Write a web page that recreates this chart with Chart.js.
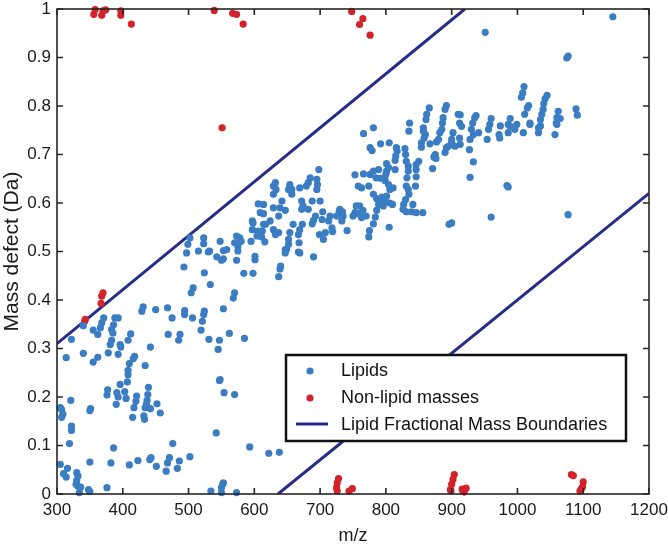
<!DOCTYPE html>
<html lang="en">
<head>
<meta charset="UTF-8">
<title>Mass defect vs m/z</title>
<script src="https://cdn.jsdelivr.net/npm/chart.js"></script>
<style>
  html, body { margin: 0; padding: 0; background: #fff; }
</style>
</head>
<body>
<canvas id="massDefectChart" width="668" height="549"></canvas>
<script>
// Lipids (m/z, mass defect)
const lipidMz = [
  1145, 951, 1075, 1077, 1077, 960, 984, 986, 928, 933, 927, 913,
  1010, 1008, 1006, 1017, 1015, 1011, 1019, 1045, 1042, 1040, 1039, 1037, 1035, 1035, 1062, 1060, 1065, 1059, 1089, 1091,
  937, 935, 932, 913, 960, 958, 989, 986, 974, 999,
  930, 933, 928, 941, 954, 956, 972, 973, 986, 989, 996, 1009, 1019, 1032, 1032, 1057, 1060,
  866, 862, 861, 890, 892, 887, 886, 910, 912, 836, 857, 781,
  766, 835, 857, 860, 858, 885, 882, 880, 877, 902, 900, 900, 905, 912, 915, 892,
  776, 779, 792, 805, 816, 817, 815, 814, 829, 830, 854, 854, 867, 875, 873, 876, 871, 890, 895,
  801, 804, 801, 814, 789, 781, 776, 766, 753, 785, 792, 763, 758, 774, 800, 799, 804, 806, 811,
  831, 834, 834, 832, 831, 834, 835, 830, 827, 826, 841, 845, 846, 846, 850, 846,
  781, 786, 791, 794, 799, 801, 806, 810, 796, 789, 831, 839, 846, 856,
  786, 784, 781, 775, 774, 805, 900, 896,
  760, 755, 753, 750, 758, 763, 765, 770,
  730, 729, 725, 734, 735, 733, 741, 715, 713, 718, 719, 708, 705, 699, 703, 704, 693, 690, 688,
  682, 674, 672, 673, 669, 667, 668, 669, 659, 654, 652, 652, 647, 647, 637, 629, 632, 647, 639, 637, 629,
  633, 629, 632, 629, 642, 657, 657, 654, 652, 669, 679, 682, 685, 695, 696, 695, 698, 700,
  614, 609, 617, 624, 612, 688, 672, 611, 616,
  649, 667, 690, 640, 639, 637,
  606, 614, 598, 597, 597, 606, 609, 604, 595, 614,
  502, 499, 523, 523, 548, 573, 578, 570, 580, 575, 515, 532, 553, 558, 497,
  530, 543, 553, 575, 550, 573, 601, 601, 493, 524, 533, 584, 598, 507, 504, 570, 568,
  431, 429, 450, 468, 494, 494, 475, 506, 524, 523, 521, 553,
  388, 393, 371, 368, 366, 386, 383, 385, 355, 362, 340, 322, 412, 408, 383, 381, 396, 397, 393, 378,
  340, 314, 355, 362, 418, 416, 410, 408, 434, 442, 469, 487, 485, 519, 531, 547, 545, 562, 585, 548,
  305, 307, 309, 307, 321, 322, 322, 319, 305, 316, 310, 314, 330, 332, 330, 329, 332, 336, 334, 348, 350,
  350, 351, 350, 376, 377, 376, 391, 393, 390, 396, 403, 405, 407, 408,
  421, 420, 417, 415, 439, 438, 437, 436, 434, 442, 432, 433, 452, 457,
  386, 382, 410, 423, 441, 443, 451, 466, 468, 471, 476, 483, 486, 502,
  547, 554, 570, 542, 593, 534, 550, 552, 553, 550, 573, 622, 638
];
const lipidDefect = [
  0.984, 0.952, 0.899, 0.903, 0.576, 0.571, 0.636, 0.633, 0.653, 0.685, 0.710, 0.721,
  0.840, 0.827, 0.818, 0.801, 0.796, 0.783, 0.765, 0.822, 0.815, 0.805, 0.793, 0.783, 0.772, 0.759, 0.789, 0.776, 0.774, 0.765, 0.794, 0.781,
  0.780, 0.776, 0.765, 0.782, 0.774, 0.762, 0.774, 0.762, 0.759, 0.762,
  0.752, 0.741, 0.731, 0.745, 0.731, 0.752, 0.741, 0.734, 0.745, 0.758, 0.752, 0.745, 0.762, 0.755, 0.745, 0.741, 0.762,
  0.796, 0.783, 0.772, 0.793, 0.801, 0.776, 0.765, 0.783, 0.765, 0.765, 0.755, 0.755,
  0.743, 0.748, 0.748, 0.741, 0.734, 0.752, 0.745, 0.731, 0.726, 0.745, 0.731, 0.724, 0.717, 0.734, 0.758, 0.714,
  0.714, 0.708, 0.722, 0.724, 0.714, 0.707, 0.697, 0.688, 0.712, 0.700, 0.724, 0.715, 0.722, 0.700, 0.695, 0.692, 0.671, 0.704, 0.717,
  0.681, 0.673, 0.666, 0.669, 0.669, 0.666, 0.659, 0.660, 0.658, 0.652, 0.651, 0.631, 0.635, 0.635, 0.659, 0.646, 0.638, 0.628, 0.631,
  0.686, 0.676, 0.666, 0.652, 0.635, 0.628, 0.618, 0.607, 0.597, 0.587, 0.597, 0.635, 0.654, 0.669, 0.686, 0.679,
  0.618, 0.609, 0.604, 0.612, 0.603, 0.614, 0.600, 0.597, 0.594, 0.597, 0.582, 0.582, 0.580, 0.580,
  0.585, 0.571, 0.557, 0.543, 0.530, 0.550, 0.559, 0.556,
  0.594, 0.594, 0.580, 0.573, 0.578, 0.570, 0.585, 0.573,
  0.587, 0.582, 0.573, 0.582, 0.573, 0.563, 0.543, 0.573, 0.563, 0.549, 0.541, 0.539, 0.525, 0.535, 0.566, 0.582, 0.573, 0.564, 0.557,
  0.587, 0.594, 0.587, 0.556, 0.545, 0.535, 0.518, 0.497, 0.556, 0.539, 0.525, 0.515, 0.504, 0.497, 0.539, 0.545, 0.535, 0.585, 0.590, 0.573, 0.590,
  0.628, 0.618, 0.642, 0.635, 0.604, 0.628, 0.618, 0.638, 0.628, 0.631, 0.635, 0.642, 0.652, 0.649, 0.638, 0.628, 0.669, 0.604,
  0.597, 0.580, 0.556, 0.563, 0.542, 0.604, 0.604, 0.530, 0.520,
  0.504, 0.499, 0.489, 0.470, 0.464, 0.448,
  0.598, 0.578, 0.559, 0.563, 0.545, 0.542, 0.535, 0.532, 0.521, 0.556,
  0.528, 0.515, 0.528, 0.516, 0.521, 0.532, 0.528, 0.518, 0.521, 0.511, 0.501, 0.501, 0.502, 0.504, 0.497,
  0.499, 0.489, 0.485, 0.501, 0.482, 0.482, 0.490, 0.483, 0.468, 0.456, 0.432, 0.455, 0.455, 0.425, 0.415, 0.415, 0.404,
  0.386, 0.377, 0.380, 0.384, 0.378, 0.370, 0.363, 0.363, 0.377, 0.370, 0.356, 0.382,
  0.363, 0.363, 0.363, 0.353, 0.343, 0.349, 0.339, 0.332, 0.338, 0.329, 0.347, 0.319, 0.330, 0.317, 0.317, 0.308, 0.308, 0.303, 0.288, 0.291,
  0.290, 0.281, 0.272, 0.282, 0.284, 0.279, 0.269, 0.255, 0.265, 0.303, 0.329, 0.329, 0.317, 0.338, 0.319, 0.317, 0.298, 0.331, 0.321, 0.236,
  0.178, 0.174, 0.165, 0.158, 0.193, 0.140, 0.131, 0.104, 0.061, 0.053, 0.042, 0.035, 0.044, 0.037, 0.028, 0.020, 0.016, 0.014, 0.003, 0.009, 0.005,
  0.066, 0.176, 0.172, 0.013, 0.215, 0.204, 0.209, 0.200, 0.185, 0.226, 0.211, 0.197, 0.231, 0.246,
  0.202, 0.191, 0.178, 0.158, 0.220, 0.205, 0.193, 0.185, 0.178, 0.176, 0.161, 0.154, 0.186, 0.167,
  0.095, 0.064, 0.060, 0.069, 0.071, 0.075, 0.057, 0.047, 0.064, 0.075, 0.104, 0.053, 0.068, 0.077,
  0.234, 0.209, 0.205, 0.126, 0.097, 0.006, 0.003, 0.020, 0.023, 0.013, 0.003, 0.084, 0.086
];

// Non-lipid masses
const nonLipidMz = [
  356, 358, 368, 370, 374, 397, 397, 413, 539, 567, 573, 583, 551,
  748, 760, 765, 776, 370, 368, 367, 343, 342,
  728, 726, 725, 726, 744, 749, 904, 902, 900, 898, 899, 917, 916, 919, 922,
  1082, 1085, 1100, 1099, 1097, 1095
];
const nonLipidDefect = [
  0.989, 0.999, 0.987, 0.996, 0.998, 0.996, 0.987, 0.969, 0.997, 0.991, 0.989, 0.969, 0.755,
  0.995, 0.968, 0.980, 0.946, 0.415, 0.408, 0.393, 0.360, 0.356,
  0.032, 0.023, 0.013, 0.006, 0.006, 0.011, 0.040, 0.030, 0.020, 0.009, 0.006, 0.006, 0.010, 0.004, 0.012,
  0.040, 0.038, 0.025, 0.015, 0.010, 0.006
];

// Fractional mass boundaries (end points)
const upperBoundMz = [300, 920];
const upperBoundDefect = [0.31, 1.0];
const lowerBoundMz = [636, 1200];
const lowerBoundDefect = [0, 0.62];

const xTicks = [300, 400, 500, 600, 700, 800, 900, 1000, 1100, 1200];
const yTicks = [0, 0.1, 0.2, 0.3, 0.4, 0.5, 0.6, 0.7, 0.8, 0.9, 1];

const lipidBlue = '#3a7dc2';
const nonLipidRed = '#d3222a';
const boundNavy = '#272c88';
const fontFamily = '"Liberation Sans", Arial, sans-serif';

function toPoints(xs, ys) {
  return xs.map((x, i) => ({ x: x, y: ys[i] }));
}

// box with inward ticks on all four sides, like the original figure
const frameTicks = {
  id: 'frameTicks',
  afterDraw(chart) {
    const { ctx, chartArea: a, scales } = chart;
    const len = 6;
    ctx.save();
    ctx.strokeStyle = '#262626';
    ctx.lineWidth = 1.6;
    ctx.strokeRect(a.left, a.top, a.right - a.left, a.bottom - a.top);
    ctx.beginPath();
    xTicks.forEach(v => {
      const px = scales.x.getPixelForValue(v);
      ctx.moveTo(px, a.bottom); ctx.lineTo(px, a.bottom - len);
      ctx.moveTo(px, a.top); ctx.lineTo(px, a.top + len);
    });
    yTicks.forEach(v => {
      const py = scales.y.getPixelForValue(v);
      ctx.moveTo(a.left, py); ctx.lineTo(a.left + len, py);
      ctx.moveTo(a.right, py); ctx.lineTo(a.right - len, py);
    });
    ctx.stroke();
    ctx.restore();
  }
};

// legend drawn inside the plot, lower right
const insideLegend = {
  id: 'insideLegend',
  afterDraw(chart) {
    const { ctx, chartArea: a } = chart;
    const right = a.right - 23, bottom = a.bottom - 53;
    const w = 340, h = 86;
    const left = right - w, top = bottom - h;
    ctx.save();
    ctx.fillStyle = '#fff';
    ctx.fillRect(left, top, w, h);
    ctx.strokeStyle = '#111';
    ctx.lineWidth = 2.5;
    ctx.strokeRect(left, top, w, h);
    const items = chart.data.datasets.filter(d => d.legendLabel);
    ctx.font = '18px ' + fontFamily;
    ctx.textBaseline = 'middle';
    items.forEach((d, i) => {
      const cy = top + 15 + i * 27;
      if (d.showLine) {
        ctx.strokeStyle = d.borderColor;
        ctx.lineWidth = 3;
        ctx.beginPath();
        ctx.moveTo(left + 10, cy); ctx.lineTo(left + 42, cy);
        ctx.stroke();
      } else {
        ctx.fillStyle = d.backgroundColor;
        ctx.beginPath();
        ctx.arc(left + 24, cy + 1, 3.6, 0, Math.PI * 2);
        ctx.fill();
      }
      ctx.fillStyle = '#111';
      ctx.fillText(d.legendLabel, left + 55, cy + 1);
    });
    ctx.restore();
  }
};

new Chart(document.getElementById('massDefectChart'), {
  type: 'scatter',
  data: {
    datasets: [
      {
        legendLabel: 'Lipids',
        data: toPoints(lipidMz, lipidDefect),
        backgroundColor: lipidBlue,
        borderWidth: 0,
        pointRadius: 3.6,
        clip: false
      },
      {
        legendLabel: 'Non-lipid masses',
        data: toPoints(nonLipidMz, nonLipidDefect),
        backgroundColor: nonLipidRed,
        borderWidth: 0,
        pointRadius: 3.6,
        clip: false
      },
      {
        legendLabel: 'Lipid Fractional Mass Boundaries',
        data: toPoints(upperBoundMz, upperBoundDefect),
        showLine: true,
        borderColor: boundNavy,
        borderWidth: 3,
        pointRadius: 0
      },
      {
        data: toPoints(lowerBoundMz, lowerBoundDefect),
        showLine: true,
        borderColor: boundNavy,
        borderWidth: 3,
        pointRadius: 0
      }
    ]
  },
  options: {
    responsive: false,
    animation: false,
    devicePixelRatio: 1,
    layout: { padding: { top: 9, right: 19, left: 0, bottom: 0 } },
    plugins: {
      legend: { display: false },
      tooltip: { enabled: false }
    },
    scales: {
      x: {
        type: 'linear',
        min: 300,
        max: 1200,
        afterBuildTicks: s => { s.ticks = xTicks.map(v => ({ value: v })); },
        afterFit: s => { s.height = 55; s.paddingLeft = 0; s.paddingRight = 0; },
        grid: { display: false, drawTicks: false },
        border: { display: false },
        ticks: {
          padding: 6,
          color: '#1a1a1a',
          font: { family: fontFamily, size: 17 },
          maxRotation: 0,
          autoSkip: false,
          callback: v => String(v)
        },
        title: {
          display: true,
          text: 'm/z',
          color: '#1a1a1a',
          font: { family: fontFamily, size: 18 },
          padding: { top: 0, bottom: 2 }
        }
      },
      y: {
        type: 'linear',
        min: 0,
        max: 1,
        afterBuildTicks: s => { s.ticks = yTicks.map(v => ({ value: v })); },
        afterFit: s => { s.width = 57; s.paddingTop = 0; s.paddingBottom = 0; },
        grid: { display: false, drawTicks: false },
        border: { display: false },
        ticks: {
          padding: 6,
          color: '#1a1a1a',
          font: { family: fontFamily, size: 17 },
          callback: v => String(Math.round(v * 10) / 10)
        },
        title: {
          display: true,
          text: 'Mass defect (Da)',
          color: '#1a1a1a',
          font: { family: fontFamily, size: 21 },
          padding: { top: 0, bottom: 0 }
        }
      }
    }
  },
  plugins: [frameTicks, insideLegend]
});
</script>
</body>
</html>
